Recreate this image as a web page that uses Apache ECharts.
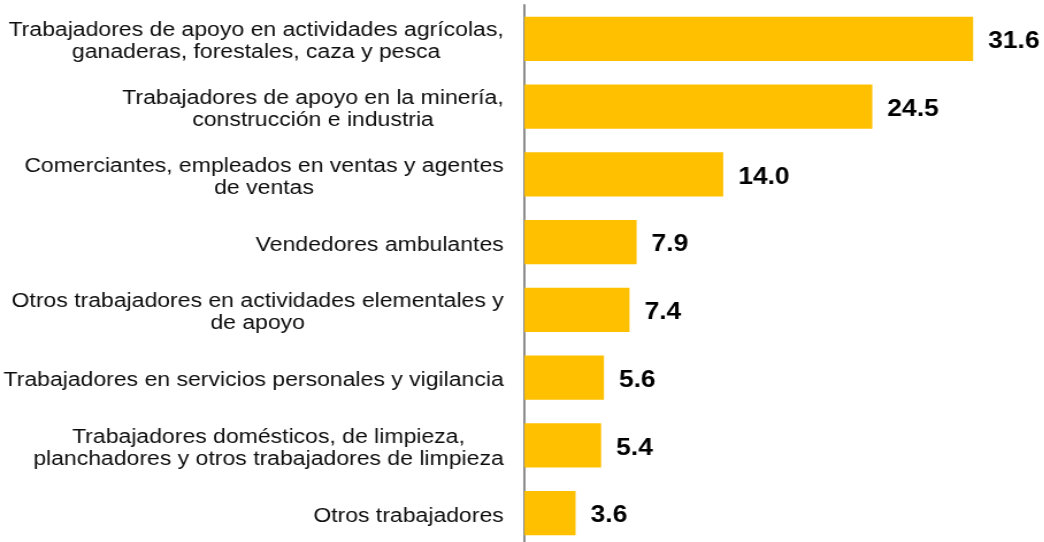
<!DOCTYPE html>
<html><head><meta charset="utf-8">
<script src="https://cdn.jsdelivr.net/npm/echarts@6/dist/echarts.min.js"></script>
<style>
html,body{margin:0;padding:0;background:#fff;overflow:hidden;width:1044px;height:542px}
#c{width:908px;height:547px;transform:scaleX(1.15);transform-origin:0 0}
</style>
</head><body><div id="c"></div>
<script>
const categories = [
  "Trabajadores de apoyo en actividades agrícolas,\nganaderas, forestales, caza y pesca",
  "Trabajadores de apoyo en la minería,\nconstrucción e industria",
  "Comerciantes, empleados en ventas y agentes\nde ventas",
  "Vendedores ambulantes",
  "Otros trabajadores en actividades elementales y\nde apoyo",
  "Trabajadores en servicios personales y vigilancia",
  "Trabajadores domésticos, de limpieza,\nplanchadores y otros trabajadores de limpieza",
  "Otros trabajadores"
];
const values = [31.6, 24.5, 14.0, 7.9, 7.4, 5.6, 5.4, 3.6];

const FONT = 'Liberation Sans, Arial, sans-serif';
const chart = echarts.init(document.getElementById('c'), null, {renderer: 'canvas'});
chart.setOption({
  animation: false,
  grid: {left: 455.7, top: 5, width: 432.5, height: 542, containLabel: false},
  xAxis: {type: 'value', min: 0, max: 35, show: false},
  yAxis: {
    type: 'category', inverse: true, data: categories,
    axisLine: {show: true, lineStyle: {color: '#808080', width: 1.8}},
    axisTick: {show: false},
    axisLabel: {
      margin: 18, align: 'right', padding: [6, 0, 0, 0],
      formatter: v => v.split('\n').map(l => '{c|' + l + '}').join('\n'),
      rich: {c: {align: 'center', color: '#0d0d0d', fontFamily: FONT, fontSize: 20, lineHeight: 22}}
    }
  },
  series: [{
    type: 'bar', data: values, barWidth: '65%',
    itemStyle: {color: '#FFC000'},
    label: {
      show: true, position: 'right', distance: 13, offset: [0, 3],
      formatter: p => p.value.toFixed(1),
      fontFamily: FONT, fontWeight: 'bold',
      fontSize: 23, color: '#000'
    }
  }]
});
</script></body></html>
